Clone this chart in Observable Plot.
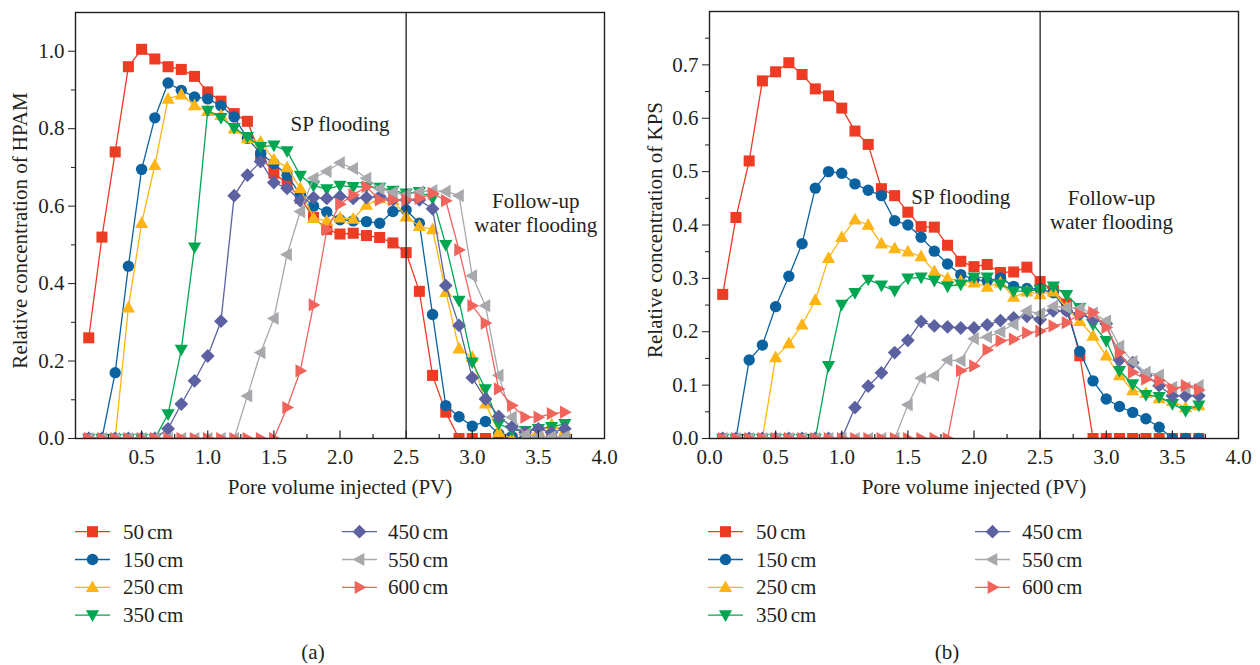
<!DOCTYPE html>
<html>
<head>
<meta charset="utf-8">
<script src="https://cdn.jsdelivr.net/npm/d3@7"></script>
<script src="https://cdn.jsdelivr.net/npm/@observablehq/plot@0.6"></script>
<style>
  body { margin: 0; background: #fff; }
  #root { position: relative; width: 1260px; height: 665px; overflow: hidden; font-family: "Liberation Serif", "DejaVu Serif", serif; color: #231f20; }
  #root svg { position: absolute; top: 0; }
</style>
</head>
<body>
<div id="root"></div>
<script>
// ---------- data ----------
const pv = [0.1,0.2,0.3,0.4,0.5,0.6,0.7,0.8,0.9,1.0,1.1,1.2,1.3,1.4,1.5,1.6,1.7,1.8,1.9,2.0,2.1,2.2,2.3,2.4,2.5,2.6,2.7,2.8,2.9,3.0,3.1,3.2,3.3,3.4,3.5,3.6,3.7];
const seriesNames = ["50 cm", "150 cm", "250 cm", "350 cm", "450 cm", "550 cm", "600 cm"];

const hpam50  = [0.26,0.52,0.74,0.96,1.005,0.98,0.96,0.953,0.935,0.895,0.871,0.839,0.819,0.73,0.685,0.659,0.62,0.571,0.54,0.528,0.53,0.524,0.519,0.505,0.48,0.38,0.163,0.068,0,0,0,0,0,0,0,0,0];
const hpam150 = [0,0,0.17,0.445,0.695,0.828,0.918,0.899,0.882,0.877,0.859,0.83,0.775,0.736,0.71,0.68,0.63,0.60,0.585,0.565,0.562,0.56,0.556,0.586,0.59,0.556,0.32,0.085,0.056,0.032,0.044,0.012,0.005,0,0,0,0];
const hpam250 = [0,0,0,0.338,0.556,0.706,0.877,0.888,0.86,0.845,0.835,0.80,0.775,0.766,0.72,0.70,0.646,0.569,0.562,0.57,0.567,0.603,0.62,0.616,0.573,0.548,0.54,0.378,0.232,0.21,0.09,0.016,0,0,0.02,0.036,0.02];
const hpam350 = [0,0,0,0,0,0,0.063,0.23,0.494,0.847,0.828,0.802,0.779,0.753,0.757,0.742,0.679,0.653,0.644,0.653,0.65,0.65,0.648,0.64,0.633,0.637,0.62,0.50,0.356,0.197,0.128,0.038,0.022,0.02,0.025,0.03,0.038];
const hpam450 = [0,0,0,0,0,0,0.025,0.089,0.149,0.213,0.303,0.627,0.68,0.715,0.661,0.646,0.614,0.622,0.62,0.625,0.62,0.622,0.625,0.616,0.616,0.616,0.593,0.395,0.292,0.157,0.102,0.057,0.03,0.016,0.025,0.016,0.025];
const hpam550 = [0,0,0,0,0,0,0,0,0,0,0,0,0.11,0.222,0.31,0.475,0.586,0.672,0.69,0.712,0.697,0.672,0.645,0.635,0.63,0.637,0.64,0.638,0.627,0.42,0.343,0.163,0.055,0.01,0.005,0.005,0.005];
const hpam600 = [0,0,0,0,0,0,0,0,0,0,0,0,0,0,0,0.08,0.175,0.345,0.539,0.605,0.629,0.65,0.616,0.616,0.616,0.62,0.633,0.614,0.487,0.343,0.298,0.128,0.085,0.055,0.055,0.064,0.068];

const kps50  = [0.27,0.414,0.52,0.67,0.687,0.704,0.682,0.655,0.642,0.619,0.576,0.551,0.468,0.455,0.424,0.397,0.396,0.362,0.332,0.322,0.326,0.311,0.312,0.321,0.294,0.277,0.252,0.155,0,0,0,0,0,0,0,0,0];
const kps150 = [0,0,0.147,0.175,0.247,0.304,0.365,0.469,0.5,0.497,0.477,0.465,0.455,0.408,0.40,0.377,0.351,0.327,0.307,0.298,0.295,0.301,0.285,0.281,0.28,0.273,0.24,0.163,0.108,0.074,0.06,0.049,0.037,0.021,0,0,0];
const kps250 = [0,0,0,0,0.152,0.178,0.213,0.259,0.338,0.377,0.41,0.40,0.365,0.356,0.35,0.341,0.313,0.30,0.295,0.292,0.284,0.292,0.265,0.275,0.27,0.275,0.245,0.22,0.192,0.155,0.118,0.09,0.085,0.075,0.07,0.058,0.062];
const kps350 = [0,0,0,0,0,0,0,0,0.136,0.251,0.273,0.298,0.287,0.277,0.30,0.302,0.296,0.285,0.289,0.302,0.302,0.289,0.276,0.276,0.279,0.285,0.269,0.245,0.214,0.183,0.127,0.102,0.082,0.078,0.065,0.052,0.062];
const kps450 = [0,0,0,0,0,0,0,0,0,0,0.058,0.098,0.123,0.161,0.184,0.219,0.211,0.209,0.207,0.207,0.213,0.221,0.226,0.229,0.223,0.239,0.239,0.233,0.223,0.215,0.147,0.142,0.118,0.099,0.08,0.08,0.08];
const kps550 = [0,0,0,0,0,0,0,0,0,0,0,0,0,0,0.063,0.113,0.118,0.147,0.146,0.187,0.19,0.2,0.214,0.239,0.234,0.248,0.245,0.244,0.235,0.22,0.173,0.144,0.124,0.119,0.096,0.095,0.099];
const kps600 = [0,0,0,0,0,0,0,0,0,0,0,0,0,0,0,0,0,0,0.127,0.136,0.166,0.183,0.186,0.198,0.201,0.211,0.217,0.233,0.236,0.208,0.161,0.124,0.111,0.108,0.093,0.099,0.091];

const xTickLabelsA = [0.5,1.0,1.5,2.0,2.5,3.0,3.5,4.0];
const xTickLabelsB = [0.0,0.5,1.0,1.5,2.0,2.5,3.0,3.5,4.0];
const xMinorTicks = [0.25,0.75,1.25,1.75,2.25,2.75,3.25,3.75];
const xMajorTicks = [0.5,1.0,1.5,2.0,2.5,3.0,3.5];
const yTicksA = [0.0,0.2,0.4,0.6,0.8,1.0];
const yMinorA = [0.1,0.3,0.5,0.7,0.9];
const yTicksB = [0.0,0.1,0.2,0.3,0.4,0.5,0.6,0.7];
const yMinorB = [0.05,0.15,0.25,0.35,0.45,0.55,0.65,0.75];
const phaseBoundary = [2.5];

// ---------- styles ----------
const ink = "#231f20";
const FS = 21;
const colors = ["#ee3b24", "#0b62a0", "#fdb515", "#00a651", "#5c62a1", "#a7a9ac", "#f0645c"];

const mk = f => ({ draw(c, size) { const r = Math.sqrt(size / Math.PI); f(c, r); } });
const poly = (c, pts) => { c.moveTo(pts[0][0], pts[0][1]); for (let i = 1; i < pts.length; i++) c.lineTo(pts[i][0], pts[i][1]); c.closePath(); };
const symSquare = mk((c, r) => { const a = r * 0.92; poly(c, [[-a,-a],[a,-a],[a,a],[-a,a]]); });
const symCircle = mk((c, r) => { const a = r * 0.95; c.moveTo(a, 0); c.arc(0, 0, a, 0, 2 * Math.PI); });
const symUp = mk((c, r) => poly(c, [[0,-1.15*r],[1.1*r,0.8*r],[-1.1*r,0.8*r]]));
const symDown = mk((c, r) => poly(c, [[0,1.15*r],[1.1*r,-0.8*r],[-1.1*r,-0.8*r]]));
const symDiamond = mk((c, r) => poly(c, [[0,-1.15*r],[1.15*r,0],[0,1.15*r],[-1.15*r,0]]));
const symLeft = mk((c, r) => poly(c, [[-1.15*r,0],[0.8*r,-1.1*r],[0.8*r,1.1*r]]));
const symRight = mk((c, r) => poly(c, [[1.15*r,0],[-0.8*r,-1.1*r],[-0.8*r,1.1*r]]));
const symbols = [symSquare, symCircle, symUp, symDown, symDiamond, symLeft, symRight];
const tickUp = mk((c, r) => { c.moveTo(0, 0); c.lineTo(0, -r); });

function panel({ series, yDomain, yTicks, yMinor, xLabels, yLabel, notes, marginLeft, marginRight, marginTop, titleDx }) {
  const marks = [];
  series.forEach((vals, i) => {
    const rows = pv.map((x, j) => ({ x, y: vals[j] }));
    marks.push(Plot.line(rows, { x: "x", y: "y", stroke: colors[i], strokeWidth: 1.3, clip: true }));
    marks.push(Plot.dot(rows, { x: "x", y: "y", symbol: symbols[i], r: 6, fill: colors[i], clip: true }));
  });
  marks.push(Plot.ruleX(phaseBoundary, { stroke: ink, strokeWidth: 1.3 }));
  marks.push(Plot.frame({ stroke: ink, strokeWidth: 1.4 }));
  marks.push(Plot.axisY(yMinor, { tickSize: 4, tickFormat: () => "", label: null }));
  marks.push(Plot.axisY(yTicks, { tickSize: 7, tickPadding: 4, tickFormat: d => d.toFixed(1), label: null }));
  marks.push(Plot.dot(xMajorTicks, { x: d => d, frameAnchor: "bottom", symbol: tickUp, r: 8, stroke: ink, strokeWidth: 1.2, fill: "none" }));
  marks.push(Plot.dot(xMinorTicks, { x: d => d, frameAnchor: "bottom", symbol: tickUp, r: 4.5, stroke: ink, strokeWidth: 1.2, fill: "none" }));
  marks.push(Plot.axisX(xLabels, { tickSize: 0, tickPadding: 11, tickFormat: d => d.toFixed(1), label: null }));
  marks.push(Plot.text(["Pore volume injected (PV)"], { frameAnchor: "bottom", dy: 49, lineAnchor: "middle", textAnchor: "middle", fontSize: FS, fill: ink }));
  marks.push(Plot.text([yLabel], { frameAnchor: "left", dx: titleDx, dy: 5, rotate: -90, lineAnchor: "middle", textAnchor: "middle", fontSize: FS, fill: ink }));
  notes.forEach(n => marks.push(Plot.text([n.text], { x: () => n.x, y: () => n.y, lineAnchor: "bottom", textAnchor: "middle", fontSize: FS, fill: ink })));
  return Plot.plot({
    width: 630, height: 500,
    marginLeft, marginRight, marginTop, marginBottom: 62,
    x: { domain: [0, 4] },
    y: { domain: yDomain },
    style: { fontFamily: "'Liberation Serif', 'DejaVu Serif', serif", fontSize: FS + "px", color: ink, background: "transparent" },
    marks
  });
}

const notesA = [
  { text: "SP flooding", x: 2.0, y: 0.795 },
  { text: "Follow-up", x: 3.48, y: 0.596 },
  { text: "water flooding", x: 3.48, y: 0.532 }
];
const notesB = [
  { text: "SP flooding", x: 1.9, y: 0.44 },
  { text: "Follow-up", x: 3.04, y: 0.438 },
  { text: "water flooding", x: 3.04, y: 0.392 }
];

const root = document.getElementById("root");
const svgA = panel({
  series: [hpam50, hpam150, hpam250, hpam350, hpam450, hpam550, hpam600],
  yDomain: [0, 1.1], yTicks: yTicksA, yMinor: yMinorA, xLabels: xTickLabelsA,
  yLabel: "Relative concentration of HPAM", notes: notesA,
  marginLeft: 75, marginRight: 26, marginTop: 12, titleDx: -55
});
svgA.style.left = "0px";
root.appendChild(svgA);

const svgB = panel({
  series: [kps50, kps150, kps250, kps350, kps450, kps550, kps600],
  yDomain: [0, 0.8], yTicks: yTicksB, yMinor: yMinorB, xLabels: xTickLabelsB,
  yLabel: "Relative concentration of KPS", notes: notesB,
  marginLeft: 79, marginRight: 22, marginTop: 11, titleDx: -54
});
svgB.style.left = "630px";
root.appendChild(svgB);

// ---------- legends and captions ----------
const ov = d3.select(root).append("svg")
  .attr("width", 1260).attr("height", 665)
  .style("left", "0px").style("pointer-events", "none")
  .style("font-family", "'Liberation Serif', 'DejaVu Serif', serif");

function legend(cols) {
  seriesNames.forEach((name, i) => {
    const col = cols[i < 4 ? 0 : 1];
    const y = 531.7 + 27.8 * (i < 4 ? i : i - 4);
    const g = ov.append("g");
    g.append("line").attr("x1", col.x0).attr("x2", col.x0 + 35).attr("y1", y).attr("y2", y)
      .attr("stroke", colors[i]).attr("stroke-width", 1.3);
    g.append("path").attr("transform", `translate(${col.x0 + 17.5},${y})`)
      .attr("d", d3.symbol(symbols[i], 36 * Math.PI)()).attr("fill", colors[i]);
    g.append("text").attr("x", col.tx).attr("y", y).attr("dy", "0.34em")
      .attr("font-size", FS).attr("fill", ink).attr("word-spacing", "-2px").text(name);
  });
}
legend([{ x0: 75, tx: 123 }, { x0: 342, tx: 388 }]);
legend([{ x0: 708, tx: 756 }, { x0: 975, tx: 1022 }]);

ov.append("text").attr("x", 313).attr("y", 652).attr("dy", "0.34em").attr("text-anchor", "middle")
  .attr("font-size", FS).attr("fill", ink).text("(a)");
ov.append("text").attr("x", 947).attr("y", 652).attr("dy", "0.34em").attr("text-anchor", "middle")
  .attr("font-size", FS).attr("fill", ink).text("(b)");
</script>
</body>
</html>
